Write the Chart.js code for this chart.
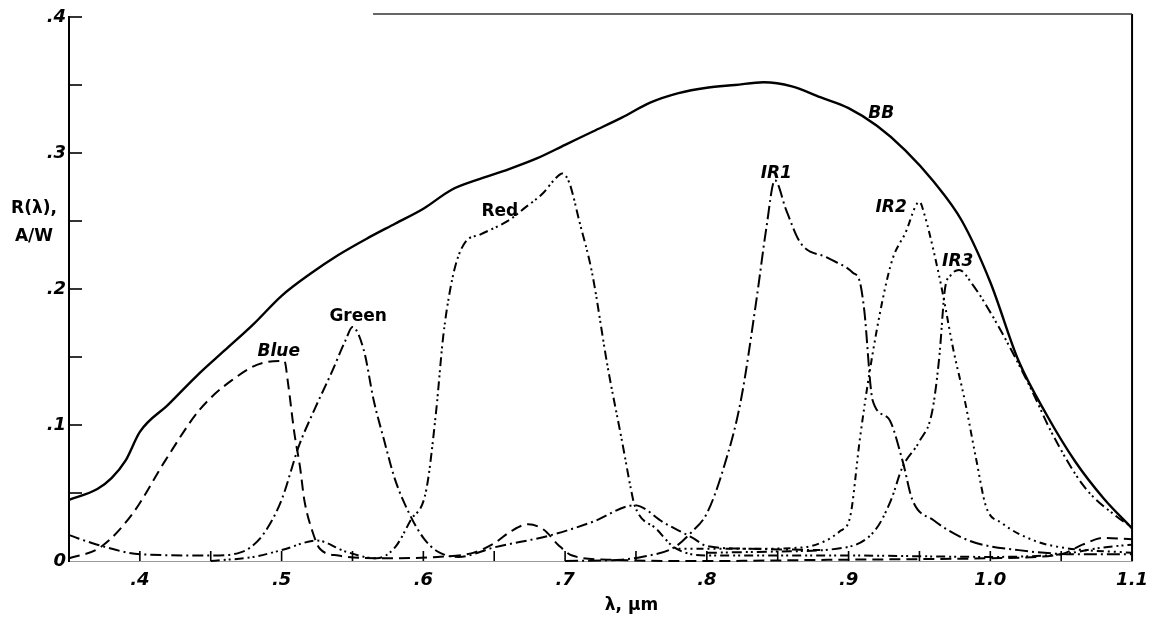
<!DOCTYPE html>
<html><head><meta charset="utf-8">
<script src="https://cdn.jsdelivr.net/npm/chart.js@4.4.1/dist/chart.umd.min.js"></script>
<style>html,body{margin:0;padding:0;background:#fff;}#wrap{width:1157px;height:618px;}</style>
</head><body><div id="wrap"><canvas id="c" width="1157" height="618"></canvas></div>
<script>
// ---- data (wavelength in micrometres, responsivity in A/W) ----
const bbX = [0.35,0.37,0.38,0.39,0.40,0.42,0.44,0.46,0.48,0.50,0.52,0.54,0.56,0.58,0.60,0.62,0.64,0.66,0.68,0.70,0.72,0.74,0.76,0.78,0.80,0.82,0.84,0.86,0.88,0.90,0.92,0.94,0.96,0.98,1.00,1.02,1.04,1.06,1.08,1.10];
const bbY = [0.045,0.053,0.061,0.074,0.095,0.115,0.136,0.155,0.174,0.195,0.211,0.225,0.237,0.248,0.259,0.273,0.281,0.288,0.296,0.306,0.316,0.326,0.337,0.344,0.348,0.350,0.352,0.349,0.341,0.333,0.320,0.302,0.279,0.250,0.205,0.147,0.107,0.073,0.046,0.024];

const blueX = [0.35,0.372,0.395,0.418,0.442,0.465,0.488,0.502,0.5045,0.509,0.513,0.516,0.522,0.527,0.54,0.57,0.61,0.635,0.65,0.662,0.674,0.685,0.695,0.705,0.73,0.80,0.90,1.00,1.05,1.065,1.08,1.10];
const blueY = [0.002,0.010,0.035,0.074,0.111,0.133,0.146,0.147,0.131,0.094,0.069,0.045,0.021,0.009,0.004,0.002,0.003,0.006,0.013,0.022,0.027,0.023,0.012,0.004,0.001,0.000,0.001,0.002,0.005,0.012,0.017,0.016];

const greenX = [0.35,0.37,0.40,0.45,0.47,0.478,0.488,0.50,0.512,0.523,0.535,0.545,0.55,0.558,0.565,0.572,0.58,0.59,0.60,0.61,0.625,0.65,0.69,0.72,0.749,0.77,0.79,0.80,0.83,0.88];
const greenY = [0.019,0.012,0.005,0.004,0.006,0.010,0.021,0.045,0.084,0.111,0.138,0.162,0.172,0.155,0.118,0.090,0.060,0.035,0.017,0.007,0.003,0.010,0.019,0.029,0.041,0.028,0.017,0.011,0.009,0.008];

const redX = [0.45,0.48,0.50,0.525,0.545,0.567,0.58,0.591,0.602,0.609,0.614,0.619,0.624,0.630,0.640,0.661,0.672,0.684,0.693,0.698,0.703,0.710,0.719,0.730,0.740,0.747,0.749,0.765,0.777,0.80,0.85,0.90,1.00,1.05,1.08,1.10];
const redY = [0.000,0.003,0.008,0.015,0.007,0.002,0.010,0.030,0.052,0.110,0.165,0.200,0.222,0.235,0.240,0.251,0.260,0.270,0.281,0.285,0.278,0.250,0.212,0.143,0.089,0.050,0.041,0.023,0.010,0.004,0.004,0.004,0.003,0.005,0.010,0.012];

const ir1X = [0.70,0.74,0.754,0.777,0.789,0.80,0.812,0.824,0.835,0.842,0.848,0.856,0.866,0.885,0.903,0.908,0.911,0.917,0.928,0.938,0.945,0.96,0.985,1.02,1.06,1.10];
const ir1Y = [0.000,0.001,0.003,0.010,0.021,0.035,0.069,0.118,0.192,0.245,0.280,0.258,0.234,0.223,0.212,0.205,0.185,0.118,0.105,0.074,0.045,0.030,0.015,0.008,0.005,0.005];

const ir2X = [0.78,0.83,0.868,0.884,0.894,0.901,0.908,0.915,0.924,0.931,0.940,0.950,0.954,0.960,0.966,0.974,0.982,0.990,0.997,1.008,1.031,1.05,1.10];
const ir2Y = [0.009,0.009,0.010,0.015,0.022,0.032,0.090,0.140,0.192,0.222,0.241,0.264,0.253,0.228,0.199,0.155,0.118,0.075,0.040,0.028,0.015,0.010,0.006];

const ir3X = [0.80,0.85,0.898,0.919,0.930,0.938,0.950,0.959,0.964,0.968,0.972,0.978,0.987,1.006,1.029,1.043,1.066,1.09,1.10];
const ir3Y = [0.006,0.007,0.010,0.023,0.045,0.069,0.088,0.110,0.150,0.200,0.210,0.214,0.204,0.172,0.126,0.095,0.055,0.032,0.025];

// tick labels
const xTickValues = [0.4,0.5,0.6,0.7,0.8,0.9,1.0,1.1];
const xTickLabels = ['.4','.5','.6','.7','.8','.9','1.0','1.1'];
const yTickValues = [0,0.1,0.2,0.3,0.4];
const yTickLabels = ['0','.1','.2','.3','.4'];

// curve labels (anchor in data coordinates)
const curveLabels = ['BB','IR1','IR2','IR3','Red','Green','Blue'];
const curveLabelX = [0.923,0.849,0.930,0.977,0.654,0.554,0.498];
const curveLabelY = [0.329,0.285,0.260,0.220,0.257,0.180,0.154];
const curveLabelItalic = [true,true,true,true,false,false,true];

const FONT = '"DejaVu Sans", "Liberation Sans", sans-serif';

function pts(xs, ys){ return xs.map((x,i)=>({x:x, y:ys[i]})); }
function lbl(v, vals, labels){
  for (let i=0;i<vals.length;i++){ if (Math.abs(v-vals[i])<1e-6) return labels[i]; }
  return '';
}

const decorPlugin = {
  id:'decor',
  afterDraw(chart){
    const ctx = chart.ctx, a = chart.chartArea, xs = chart.scales.x, ys = chart.scales.y;
    ctx.save();
    ctx.strokeStyle = '#000';
    ctx.lineWidth = 1.6;
    // inward ticks
    xs.ticks.forEach(t=>{
      const px = xs.getPixelForValue(t.value);
      if (px < a.left+2 || px > a.right-2) return;
      ctx.beginPath(); ctx.moveTo(px, a.bottom); ctx.lineTo(px, a.bottom-10); ctx.stroke();
    });
    ys.ticks.forEach(t=>{
      if (Math.abs(t.value) < 1e-9) return;
      const py = ys.getPixelForValue(t.value);
      ctx.beginPath(); ctx.moveTo(a.left, py); ctx.lineTo(a.left+13, py); ctx.stroke();
    });
    // frame: right and partial top
    ctx.lineWidth = 2;
    ctx.beginPath(); ctx.moveTo(a.right, a.top-3); ctx.lineTo(a.right, a.bottom); ctx.stroke();
    ctx.strokeStyle = '#333'; ctx.lineWidth = 1.4;
    ctx.beginPath(); ctx.moveTo(xs.getPixelForValue(0.5645), a.top-3); ctx.lineTo(a.right, a.top-3); ctx.stroke();
    // curve labels
    ctx.fillStyle = '#000';
    ctx.textAlign = 'center'; ctx.textBaseline = 'middle';
    curveLabels.forEach((s,i)=>{
      ctx.font = (curveLabelItalic[i] ? 'italic ' : '') + 'bold 17px ' + FONT;
      ctx.fillText(s, xs.getPixelForValue(curveLabelX[i]), ys.getPixelForValue(curveLabelY[i]));
    });
    // axis titles
    ctx.font = 'bold 17px ' + FONT;
    ctx.fillText('R(\u03bb),', 34, 209);
    ctx.fillText('A/W', 34, 237);
    ctx.fillText('\u03bb, \u03bcm', (a.left + a.right)/2 + 31, 606);
    ctx.restore();
  }
};

const common = {borderColor:'#000', borderWidth:2, pointRadius:0, fill:false, cubicInterpolationMode:'monotone', clip:4};

new Chart(document.getElementById('c'), {
  type:'line',
  data:{ datasets:[
    Object.assign({label:'BB', data:pts(bbX,bbY)}, common, {borderWidth:2.4}),
    Object.assign({label:'Blue', data:pts(blueX,blueY), borderDash:[11,6]}, common),
    Object.assign({label:'Green', data:pts(greenX,greenY), borderDash:[11,4,2,4]}, common),
    Object.assign({label:'Red', data:pts(redX,redY), borderDash:[9,4,2,3,2,4]}, common),
    Object.assign({label:'IR1', data:pts(ir1X,ir1Y), borderDash:[13,4,2,4]}, common),
    Object.assign({label:'IR2', data:pts(ir2X,ir2Y), borderDash:[2,4,2,4,2,4,7,4]}, common),
    Object.assign({label:'IR3', data:pts(ir3X,ir3Y), borderDash:[10,4,2,3,2,4]}, common)
  ]},
  options:{
    responsive:false, animation:false, devicePixelRatio:1,
    layout:{padding:{left:0, right:16, top:17, bottom:0}},
    plugins:{legend:{display:false}, tooltip:{enabled:false}},
    scales:{
      x:{type:'linear', min:0.35, max:1.1,
        afterFit(s){ s.height = 57; },
        afterBuildTicks(s){ const t=[]; for(let i=35;i<=110;i+=5) t.push({value:i/100}); s.ticks=t; },
        grid:{display:false, drawTicks:false},
        border:{display:true, color:'#9a9a9a', width:1},
        ticks:{autoSkip:false, maxRotation:0, padding:9, color:'#000',
          font:{family:FONT, size:18, weight:'bold', style:'italic'},
          callback:(v)=>lbl(v, xTickValues, xTickLabels)}
      },
      y:{type:'linear', min:0, max:0.4,
        afterFit(s){ s.width = 69; },
        afterBuildTicks(s){ const t=[]; for(let i=0;i<=40;i+=5) t.push({value:i/100}); s.ticks=t; },
        grid:{display:false, drawTicks:false},
        border:{display:true, color:'#000', width:2},
        ticks:{autoSkip:false, padding:3, color:'#000',
          font:{family:FONT, size:18, weight:'bold', style:'italic'},
          callback:(v)=>lbl(v, yTickValues, yTickLabels)}
      }
    }
  },
  plugins:[decorPlugin]
});
</script>
</body></html>
